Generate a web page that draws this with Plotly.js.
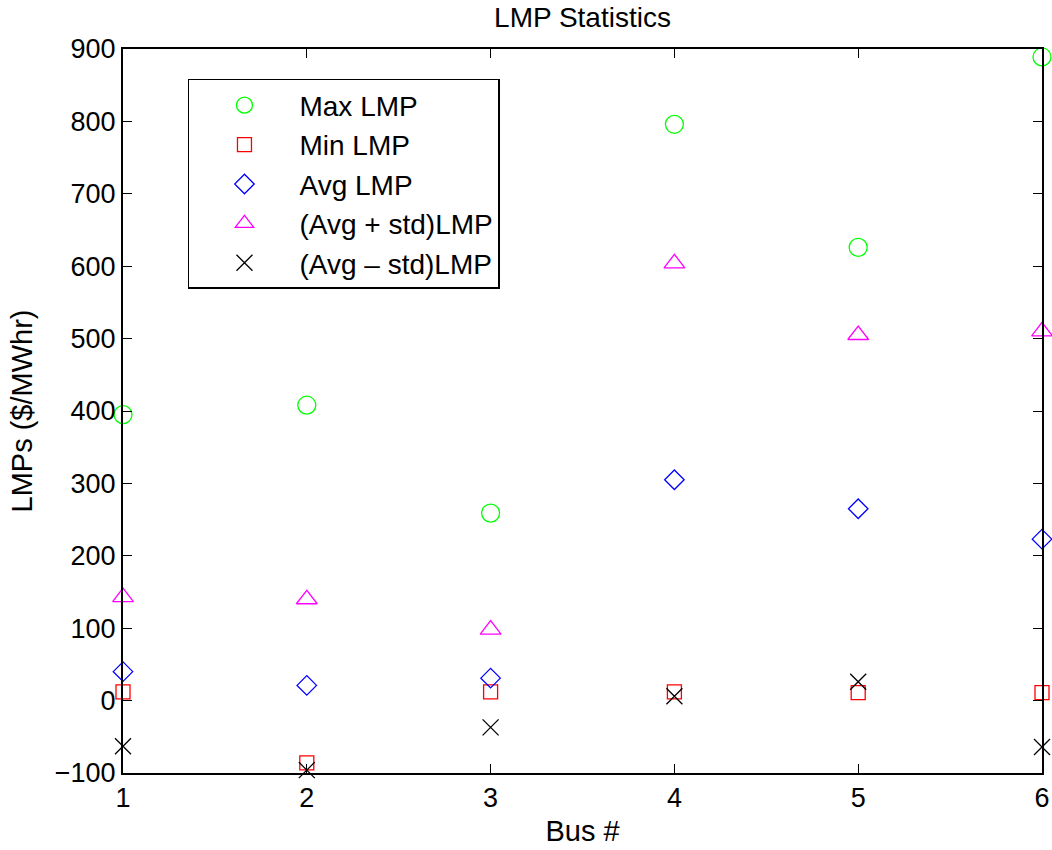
<!DOCTYPE html>
<html>
<head>
<meta charset="utf-8">
<script src="https://cdn.plot.ly/plotly-3.0.1.min.js"></script>
<style>html,body{margin:0;padding:0;background:#fff;}#chart{width:1052px;height:850px;}</style>
</head>
<body>
<div id="chart"></div>
<script>
const buses = [1, 2, 3, 4, 5, 6];
const maxLMP = [395, 408, 259, 796, 626, 889];
const minLMP = [12, -86, 12, 12, 11, 11];
const avgLMP = [40, 21, 31, 305, 265, 223];
const avgPlusStd = [143, 140, 98, 604, 505, 510];
const avgMinusStd = [-63, -96, -37, 6, 26, -64];
const seriesNames = ['Max LMP', 'Min LMP', 'Avg LMP', '(Avg + std)LMP', '(Avg \u2013 std)LMP'];
const yTicks = [-100, 0, 100, 200, 300, 400, 500, 600, 700, 800, 900];

const font = 'Liberation Sans, Arial, Helvetica, sans-serif';
function mk(y, name, symbol, color, size) {
  return {
    x: buses, y: y, name: name, type: 'scatter', mode: 'markers',
    cliponaxis: false,
    marker: {symbol: symbol, size: size, color: color, line: {color: color, width: 1.3}}
  };
}
const traces = [
  mk(maxLMP, seriesNames[0], 'circle-open', '#00ff00', 18),
  mk(minLMP, seriesNames[1], 'square-open', '#ff0000', 14),
  mk(avgLMP, seriesNames[2], 'diamond-open', '#0000ff', 15),
  mk(avgPlusStd, seriesNames[3], 'triangle-up-open', '#ff00ff', 18),
  mk(avgMinusStd, seriesNames[4], 'x-thin-open', '#000000', 16)
];

const layout = {
  width: 1052, height: 850,
  margin: {l: 123, r: 10, t: 49, b: 77},
  paper_bgcolor: '#fff', plot_bgcolor: '#fff',
  font: {family: font, size: 27, color: '#000'},
  title: {text: 'LMP Statistics', font: {family: font, size: 28, color: '#000'}, xref: 'paper', x: 0.5, xanchor: 'center', yref: 'container', y: 0.98, yanchor: 'middle'},
  xaxis: {
    range: [1, 6], tickvals: buses, ticktext: buses.map(String),
    ticks: 'inside', ticklen: 9, tickwidth: 1, tickcolor: '#000',
    showline: true, linecolor: '#000', linewidth: 2, mirror: 'ticks',
    showgrid: false, zeroline: false,
    tickfont: {family: font, size: 27},
    title: {text: 'Bus #', font: {family: font, size: 29}, standoff: 8}
  },
  yaxis: {
    range: [-100, 900], tickvals: yTicks,
    ticks: 'inside', ticklen: 9, tickwidth: 1, tickcolor: '#000',
    showline: true, linecolor: '#000', linewidth: 2, mirror: 'ticks',
    showgrid: false, zeroline: false,
    tickfont: {family: font, size: 27},
    title: {text: 'LMPs ($/MWhr)', font: {family: font, size: 29}, standoff: 14}
  },
  showlegend: true,
  legend: {
    x: 0.0707, y: 0.9586, xanchor: 'left', yanchor: 'top',
    bgcolor: '#fff', bordercolor: '#000', borderwidth: 1.5,
    font: {family: font, size: 28, color: '#000'},
    tracegroupgap: 0, itemwidth: 100
  }
};
Plotly.newPlot('chart', traces, layout, {displayModeBar: false, staticPlot: true});
</script>
</body>
</html>
